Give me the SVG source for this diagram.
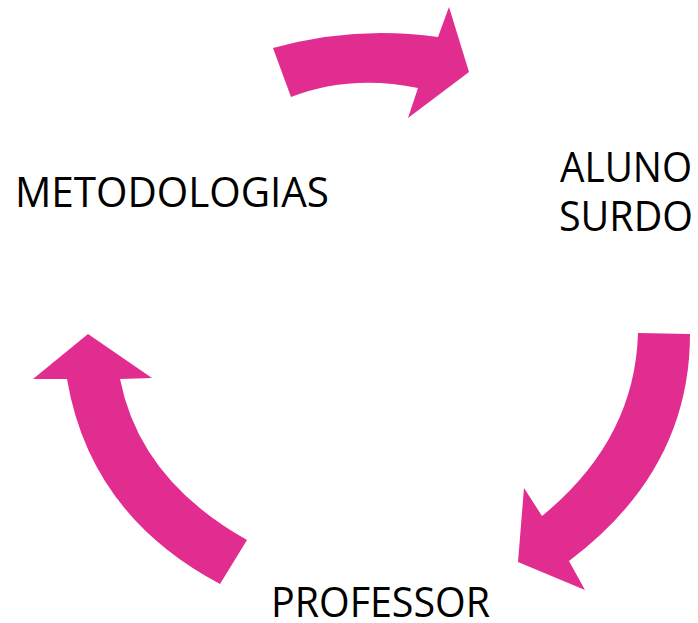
<svg xmlns="http://www.w3.org/2000/svg" width="698" height="623" viewBox="0 0 698 623">
<style>
.arrow{fill:#E12D90;stroke:none}
.lbl{font-family:"Open Sans","Liberation Sans",sans-serif;font-size:42px;fill:#000}
</style>
<rect width="698" height="623" fill="#fff"/>
<g id="connectors">
<path class="arrow" d="M273,48 Q355,25 438,37 L449,7 L469,72 L408,118 L418,88 Q350,74 291,97 Z"/>
<path class="arrow" d="M638,333 L690,334 Q690,470 569,561 L585,590 L518,562 L524,488 L542,516 Q635,440 638,333 Z"/>
<path class="arrow" d="M88,334 L152,378 L120,379 Q140,480 247,540 L220,584 Q90,515 67,379 L33,379 Z"/>
</g>
<g id="metodologias"><text class="lbl" x="15" y="207" textLength="314" lengthAdjust="spacingAndGlyphs">METODOLOGIAS</text></g>
<g id="aluno-surdo"><text class="lbl" x="560" y="182" textLength="132" lengthAdjust="spacingAndGlyphs">ALUNO</text><text class="lbl" x="559" y="231" textLength="134" lengthAdjust="spacingAndGlyphs">SURDO</text></g>
<g id="professor"><text class="lbl" x="271" y="617" textLength="219" lengthAdjust="spacingAndGlyphs">PROFESSOR</text></g>
</svg>
